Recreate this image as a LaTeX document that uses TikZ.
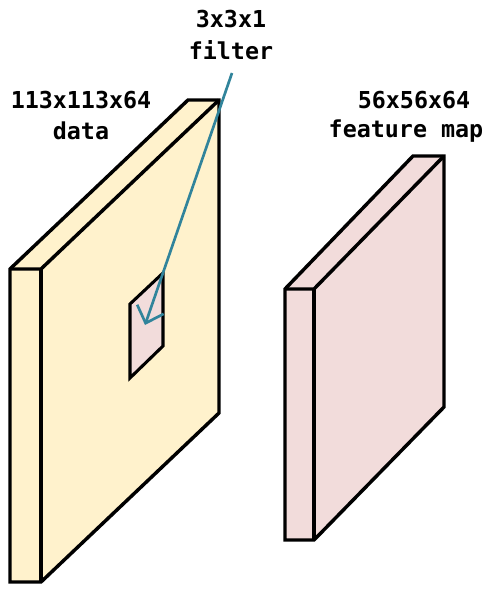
\documentclass[tikz,border=0pt]{standalone}
\usepackage{fontspec}
\newfontfamily\labelfont{DejaVu Sans Mono}
\usetikzlibrary{arrows.meta}
\definecolor{datafill}{HTML}{FFF2CC}
\definecolor{mapfill}{HTML}{F2DCDB}
\definecolor{arrowcol}{HTML}{31849B}
\tikzset{
  slab/.style={draw=black, line width=2.6pt, line join=miter},
  lbl/.style={font=\labelfont\bfseries\fontsize{17.5pt}{20pt}\selectfont, inner sep=0pt, anchor=center},
  pointer/.style={draw=arrowcol, line width=2pt, -{Straight Barb[length=11pt,width=21pt,line width=2pt]}}
}
\begin{document}
\begin{tikzpicture}[x=0.75pt, y=-0.75pt]
\useasboundingbox (0,0) rectangle (498,592);
% data block
\coordinate (dA) at (10,269);
\coordinate (dB) at (41,269);
\coordinate (dC) at (41,582);
\coordinate (dD) at (10,582);
\coordinate (dE) at (188,100);
\coordinate (dF) at (219,100);
\coordinate (dG) at (219,413);
\fill[datafill] (dA) -- (dE) -- (dF) -- (dG) -- (dC) -- (dD) -- cycle;
\draw[slab] (dA) -- (dE) -- (dF) -- (dG) -- (dC) -- (dD) -- cycle;
\draw[slab] (dA) -- (dB) -- (dF);
\draw[slab] (dB) -- (dC);
% filter patch
\coordinate (fA) at (130,304);
\coordinate (fB) at (163,273);
\coordinate (fC) at (163,346);
\coordinate (fD) at (130,378);
\filldraw[fill=mapfill, draw=black, line width=2.3pt] (fA) -- (fB) -- (fC) -- (fD) -- cycle;
% feature map block
\coordinate (mA) at (285,289);
\coordinate (mB) at (314,289);
\coordinate (mC) at (314,540);
\coordinate (mD) at (285,540);
\coordinate (mE) at (413,156);
\coordinate (mF) at (444,156);
\coordinate (mG) at (444,407);
\fill[mapfill] (mA) -- (mE) -- (mF) -- (mG) -- (mC) -- (mD) -- cycle;
\draw[slab] (mA) -- (mE) -- (mF) -- (mG) -- (mC) -- (mD) -- cycle;
\draw[slab] (mA) -- (mB) -- (mF);
\draw[slab] (mB) -- (mC);
% labels
\node[lbl] (t1) at (231,19) {3x3x1};
\node[lbl] (t2) at (231,50) {filter};
\node[lbl] (t3) at (81,100) {113x113x64};
\node[lbl] (t4) at (81,131) {data};
\node[lbl] (t5) at (414,100) {56x56x64};
\node[lbl] (t6) at (406,131) {feature map};
% pointer
\coordinate (pStart) at (232,73);
\coordinate (pTip) at (145,325);
\draw[pointer] (pStart) -- (pTip);
\end{tikzpicture}
\end{document}
